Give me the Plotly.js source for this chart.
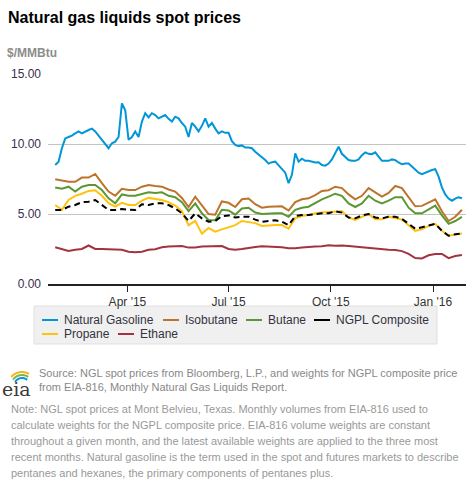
<!DOCTYPE html>
<html>
<head>
<meta charset="utf-8">
<script src="https://cdn.plot.ly/plotly-3.0.1.min.js"></script>
<style>
html,body{margin:0;padding:0;background:#fff;}
#chart{width:469px;height:482px;}
</style>
</head>
<body>
<div id="chart"></div>
<script>
// ---- Data ----
// Natural gasoline: every 3 days starting 2015-01-26
const gasolineStart = '2015-01-26';
const gasolineStepDays = 3;
const naturalGasoline = [
 8.5, 8.74, 9.7, 10.4, 10.5, 10.6, 10.76, 10.9, 10.76, 10.9,
 11.0, 11.1, 10.9, 10.6, 10.3, 9.93, 9.7, 10.05, 10.17, 10.5,
 12.9, 12.4, 10.3, 10.5, 10.9, 10.5, 11.6, 12.2, 11.9, 12.2,
 12.07, 11.83, 11.95, 12.07, 11.8, 11.6, 11.95, 11.83, 11.5, 11.24,
 10.5, 11.5, 11.24, 10.9, 11.3, 11.83, 11.24, 11.5, 11.1, 10.76,
 10.9, 10.8, 10.8, 10.2, 9.93, 9.85, 9.9, 9.75, 9.75, 9.7,
 9.45, 9.27, 9.1, 8.86, 8.6, 8.7, 8.74, 8.5, 8.26, 7.95,
 7.2, 7.8, 9.33, 8.74, 8.95, 8.8, 8.8, 8.75, 8.68, 8.7,
 8.5, 8.45, 8.6, 8.9, 9.3, 9.8, 9.3, 9.05, 8.85, 8.8,
 8.8, 8.9, 9.2, 9.4, 9.3, 9.27, 9.4, 9.1, 8.8, 8.8,
 8.8, 8.9, 8.85, 8.68, 8.55, 8.6, 8.6, 8.4, 8.2, 7.95,
 7.85, 7.95, 8.07, 8.14, 8.2, 7.67, 6.9, 6.4, 6.1, 5.95,
 6.1, 6.2, 6.12
];
// Other series: every 6 days starting 2015-01-26
const seriesStart = '2015-01-26';
const seriesStepDays = 6;
const isobutane = [
 7.48, 7.38, 7.31, 7.3, 7.6, 7.6, 7.86, 7.2, 6.6, 6.3,
 6.8, 6.71, 6.71, 6.95, 7.07, 7.0, 6.95, 6.75, 6.6, 6.15,
 5.5, 6.24, 5.6, 5.0, 4.95, 5.9, 5.8, 5.5, 6.05, 6.1,
 5.7, 5.45, 5.52, 5.52, 5.55, 5.25, 5.85, 6.05, 6.12, 6.35,
 6.65, 6.7, 6.95, 6.85, 6.4, 6.05, 6.3, 6.85, 6.55, 6.24,
 6.5, 7.0, 6.85, 6.2, 5.55, 5.58, 5.82, 6.05, 5.2, 4.5,
 4.8, 5.3
];
const butane = [
 6.9, 6.8, 6.95, 6.6, 6.95, 7.07, 7.07, 6.71, 6.12, 5.76,
 6.4, 6.3, 6.3, 6.4, 6.55, 6.5, 6.55, 6.3, 6.2, 5.85,
 5.2, 5.76, 5.05, 4.57, 4.55, 5.3, 5.25, 4.95, 5.4, 5.45,
 5.1, 5.0, 5.05, 5.05, 5.05, 4.8, 5.3, 5.45, 5.52, 5.8,
 6.05, 6.24, 6.45, 6.3, 5.75, 5.5, 5.76, 6.3, 5.95, 5.76,
 5.95, 6.2, 6.2, 5.45, 5.05, 5.05, 5.3, 5.6, 4.9, 4.3,
 4.5, 4.8
];
const ngplComposite = [
 5.29, 5.29, 5.52, 5.64, 5.85, 5.88, 6.0, 5.64, 5.29, 5.29,
 5.35, 5.3, 5.29, 5.7, 5.64, 5.76, 5.76, 5.64, 5.4, 5.05,
 4.5, 5.05, 4.69, 4.45, 4.5, 4.85, 4.9, 4.75, 4.81, 4.81,
 4.6, 4.45, 4.5, 4.55, 4.45, 4.2, 4.85, 4.93, 4.93, 5.0,
 5.05, 5.05, 5.2, 5.1, 4.75, 4.69, 4.9, 5.0, 4.75, 4.69,
 4.8, 4.81, 4.65, 4.3, 3.95, 4.05, 4.2, 4.3, 3.8, 3.45,
 3.55, 3.62
];
const propane = [
 5.64, 5.3, 6.0, 6.3, 6.45, 6.65, 6.7, 6.3, 5.78, 5.52,
 5.8, 5.64, 5.64, 5.95, 6.15, 6.1, 6.0, 5.85, 5.6, 5.2,
 4.2, 4.5, 3.6, 4.0, 3.74, 3.9, 4.05, 4.2, 4.5, 4.45,
 4.35, 4.15, 4.2, 4.21, 4.21, 3.95, 4.7, 4.85, 4.93, 5.05,
 5.1, 5.15, 5.2, 5.2, 4.75, 4.57, 4.8, 5.0, 4.62, 4.62,
 4.81, 4.69, 4.6, 4.2, 3.8, 3.9, 4.15, 4.3, 3.8, 3.45,
 3.5, 3.6
];
const ethane = [
 2.62, 2.48, 2.36, 2.45, 2.5, 2.75, 2.5, 2.5, 2.48, 2.48,
 2.45, 2.31, 2.26, 2.3, 2.45, 2.48, 2.62, 2.67, 2.67, 2.71,
 2.6, 2.6, 2.67, 2.68, 2.71, 2.71, 2.5, 2.45, 2.5, 2.6,
 2.65, 2.7, 2.68, 2.67, 2.63, 2.56, 2.55, 2.6, 2.66, 2.67,
 2.7, 2.76, 2.73, 2.75, 2.71, 2.66, 2.6, 2.56, 2.5, 2.48,
 2.44, 2.43, 2.35, 2.15, 1.85, 1.83, 2.05, 2.14, 2.15, 1.85,
 2.0, 2.07
];
const seriesNames = ['Natural Gasoline', 'Isobutane', 'Butane', 'NGPL Composite', 'Propane', 'Ethane'];
const seriesColors = ['#0096d7', '#bd732a', '#5d9732', '#000000', '#ffc20e', '#a33340'];
const xTickVals = ['2015-04-01', '2015-07-01', '2015-10-01', '2016-01-01'];
const xTickText = ["Apr '15", "Jul '15", "Oct '15", "Jan '16"];
const yTickVals = [0, 5, 10, 15];
const yTickText = ['0.00', '5.00', '10.00', '15.00'];

// ---- Layout helpers (pixel -> paper) ----
const W = 469, H = 482;
const M = {l: 48, r: 3, t: 74, b: 198};
const PW = W - M.l - M.r, PH = H - M.t - M.b;
const px = x => (x - M.l) / PW;
const py = y => (H - M.b - y) / PH;
const DAY = 86400000;
const FONT = 'Liberation Sans, Arial, sans-serif';

function line(idx, start, step, vals, dash) {
  return {
    type: 'scatter', mode: 'lines', name: seriesNames[idx],
    x0: start, dx: step * DAY, y: vals,
    line: {color: seriesColors[idx], width: 2, dash: dash || 'solid'},
    hoverinfo: 'skip', showlegend: false
  };
}

// draw order: ethane, gasoline, isobutane, butane, propane, then dashed composite on top
const data = [
  line(5, seriesStart, seriesStepDays, ethane),
  line(0, gasolineStart, gasolineStepDays, naturalGasoline),
  line(1, seriesStart, seriesStepDays, isobutane),
  line(2, seriesStart, seriesStepDays, butane),
  line(4, seriesStart, seriesStepDays, propane),
  line(3, seriesStart, seriesStepDays, ngplComposite, '6px,4px')
];

function ann(text, x, y, size, color, opts) {
  return Object.assign({
    text: text, xref: 'paper', yref: 'paper', x: px(x), y: py(y),
    xanchor: 'left', yanchor: 'middle', showarrow: false,
    font: {family: FONT, size: size, color: color}
  }, opts || {});
}

const noteLines = [
  'Note: NGL spot prices at Mont Belvieu, Texas. Monthly volumes from EIA-816 used to',
  'calculate weights for the NGPL composite price. EIA-816 volume weights are constant',
  'throughout a given month, and the latest available weights are applied to the three most',
  'recent months. Natural gasoline is the term used in the spot and futures markets to describe',
  'pentanes and hexanes, the primary components of pentanes plus.'
];

const annotations = [
  ann('<b>Natural gas liquids spot prices</b>', 6, 17, 16, '#000000'),
  ann('<b>$/MMBtu</b>', 5, 53, 12, '#8c8c8c'),
  ann('Source: NGL spot prices from Bloomberg, L.P., and weights for NGPL composite price', 37, 373, 11, '#888888'),
  ann('from EIA-816, Monthly Natural Gas Liquids Report.', 37, 387, 11, '#888888'),
  ann('eia', 0, 389, 19, '#3a3a3a', {font: {family: 'DejaVu Serif, Liberation Serif, serif', size: 19, color: '#3a3a3a'}})
];
noteLines.forEach((t, i) => annotations.push(ann(t, 9, 409 + i * 16, 11, '#999999')));

const shapes = [];
// legend box
shapes.push({type: 'rect', xref: 'paper', yref: 'paper', x0: px(34), x1: px(437), y0: py(306), y1: py(344),
  fillcolor: '#f0f0f0', line: {color: '#e0e0e0', width: 1}, layer: 'below'});
// legend entries: [series index, symbol left x, row y]
const legendSlots = [[0, 42, 320], [1, 163, 320], [2, 246, 320], [3, 314, 320], [4, 42, 334], [5, 118, 334]];
legendSlots.forEach(([i, x, y]) => {
  shapes.push({type: 'line', xref: 'paper', yref: 'paper', x0: px(x), x1: px(x + 16), y0: py(y), y1: py(y),
    line: {color: seriesColors[i], width: 2}});
  annotations.push(ann(seriesNames[i], x + 20, y, 12, '#333340'));
});

// eia logo arcs
function arc(cx, cy, r, a0, a1, color, w) {
  let d = '';
  const n = 12;
  for (let k = 0; k <= n; k++) {
    const a = (a0 + (a1 - a0) * k / n) * Math.PI / 180;
    const X = px(cx + r * Math.cos(a)), Y = py(cy - r * Math.sin(a));
    d += (k === 0 ? 'M' : 'L') + X + ',' + Y + ' ';
  }
  return {type: 'path', xref: 'paper', yref: 'paper', path: d, line: {color: color, width: w}};
}
shapes.push(arc(22, 386, 14, 60, 140, '#f5b21b', 2));
shapes.push(arc(22, 386, 11, 55, 145, '#7ab648', 2));
shapes.push(arc(22, 386, 8, 50, 150, '#0096d7', 2));

const layout = {
  width: W, height: H,
  margin: M,
  paper_bgcolor: '#ffffff', plot_bgcolor: '#ffffff',
  font: {family: FONT, size: 12, color: '#333333'},
  showlegend: false,
  xaxis: {
    type: 'date', range: ['2015-01-19 12:00', '2016-01-30 16:00'],
    tickvals: xTickVals, ticktext: xTickText,
    ticks: 'outside', ticklen: 6, tickcolor: '#222', tickwidth: 1,
    showline: true, linecolor: '#222', linewidth: 2,
    showgrid: false, zeroline: false,
    tickfont: {family: FONT, size: 12, color: '#333333'}
  },
  yaxis: {
    range: [0, 15], tickvals: yTickVals, ticktext: yTickText,
    showgrid: true, gridcolor: '#c4c4c4', gridwidth: 1,
    zeroline: false, showline: false, ticks: '',
    ticklabelstandoff: 6,
    tickfont: {family: FONT, size: 12, color: '#3a2f4f'}
  },
  annotations: annotations,
  shapes: shapes
};

Plotly.newPlot('chart', data, layout, {staticPlot: true, displayModeBar: false});
</script>
</body>
</html>
